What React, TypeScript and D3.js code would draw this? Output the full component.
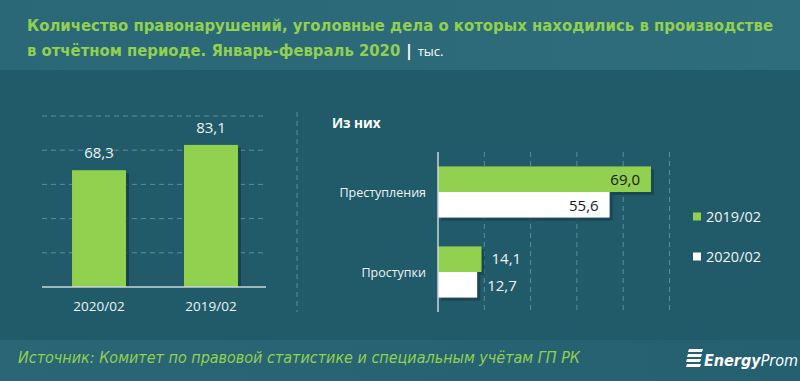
import React from "react";
import * as d3 from "d3";

const leftCategories = ["2020/02", "2019/02"];
const leftValues = [68.3, 83.1];
const leftTicks = [0, 20, 40, 60, 80, 100];

const rightCategories = ["Преступления", "Проступки"];
const seriesNames = ["2019/02", "2020/02"];
const series2019 = [69.0, 14.1];
const series2020 = [55.6, 12.7];
const rightTicks = [15, 30, 45, 60, 75];

const titleLine1 = "Количество правонарушений, уголовные дела о которых находились в производстве";
const titleLine2 = "в  отчётном периоде. Январь-февраль 2020";
const unitText = "тыс.";
const subTitle = "Из них";
const sourceText = "Источник: Комитет по правовой статистике и специальным учётам ГП РК";

const W = 800;
const H = 381;
const GREEN = "#92d050";
const GRID = "#5b8d9c";
const TXT = "#eef3f4";
const fmt = (v: number) => v.toFixed(1).replace(".", ",");

export default function App() {
  const yL = d3.scaleLinear().domain([0, 100]).range([287, 116]);
  const xL = d3.scaleBand<string>().domain(leftCategories).range([42, 268]).paddingInner(0.518).paddingOuter(0.268);

  const xR = d3.scaleLinear().domain([0, 75]).range([438, 669.5]);
  const yR = d3.scaleBand<string>().domain(rightCategories).range([152, 312]).paddingInner(0.36).paddingOuter(0.18);
  const yS = d3.scaleBand<string>().domain(seriesNames).range([0, yR.bandwidth()]);
  const seriesVals: Record<string, number[]> = { "2019/02": series2019, "2020/02": series2020 };
  const seriesColor: Record<string, string> = { "2019/02": GREEN, "2020/02": "#ffffff" };

  const condensed = "'Liberation Sans Narrow', 'DejaVu Sans Condensed', 'Roboto Condensed', sans-serif";
  const labelFont = "'Open Sans', 'Liberation Sans', sans-serif";

  return (
    <div style={{ position: "absolute", left: 0, top: 0, width: W, height: H }}>
      <svg width={W} height={H} style={{ display: "block" }}>
        <defs>
          <linearGradient id="titleBg" x1="0" x2="1" y1="0" y2="0">
            <stop offset="0" stopColor="#2a6777" />
            <stop offset="1" stopColor="#2e6d7c" />
          </linearGradient>
          <linearGradient id="footBg" x1="0" x2="1" y1="0" y2="0">
            <stop offset="0" stopColor="#2a6676" />
            <stop offset="1" stopColor="#24606f" />
          </linearGradient>
        </defs>
        <rect x={0} y={0} width={W} height={H} fill="#215a69" />
        <rect x={0} y={0} width={W} height={70} fill="url(#titleBg)" />
        <rect x={0} y={340} width={W} height={41} fill="url(#footBg)" />

        {/* Title */}
        <text x={27} y={31} fill={GREEN} fontFamily={condensed} fontSize={16.5} fontWeight="bold" textLength={746} lengthAdjust="spacingAndGlyphs">
          {titleLine1}
        </text>
        <text x={27} y={56} fontFamily={condensed} fontSize={16.5} fontWeight="bold">
          <tspan fill={GREEN}>{titleLine2}</tspan>
          <tspan fill="#ffffff" dx={6}>|</tspan>
          <tspan fill="#ffffff" dx={6} fontFamily={labelFont} fontSize={13} fontWeight="normal">{unitText}</tspan>
        </text>

        {/* Left chart grid */}
        {leftTicks.slice(1).map((t) => (
          <line key={t} x1={42} x2={266} y1={yL(t)} y2={yL(t)} stroke={GRID} strokeDasharray="5,4" strokeWidth={1} />
        ))}
        {leftCategories.map((c, i) => (
          <g key={c}>
            <rect x={(xL(c) as number) + 3} y={yL(leftValues[i]) + 3} width={xL.bandwidth()} height={yL(0) - yL(leftValues[i]) - 3} fill="#173f4b" opacity={0.8} />
            <rect x={xL(c) as number} y={yL(leftValues[i])} width={xL.bandwidth()} height={yL(0) - yL(leftValues[i])} fill={GREEN} />
            <text x={(xL(c) as number) + xL.bandwidth() / 2} y={yL(leftValues[i]) - 18} textAnchor="middle" dominantBaseline="central" fill={TXT} fontFamily={labelFont} fontSize={15}>
              {fmt(leftValues[i])}
            </text>
            <text x={(xL(c) as number) + xL.bandwidth() / 2} y={306} textAnchor="middle" dominantBaseline="central" fill={TXT} fontFamily={labelFont} fontSize={13.5}>
              {c}
            </text>
          </g>
        ))}
        <line x1={42} x2={266} y1={yL(0)} y2={yL(0)} stroke="#c9d6da" strokeWidth={1.5} />

        {/* separator */}
        <line x1={297} x2={297} y1={112} y2={312} stroke={GRID} strokeDasharray="5,4" strokeWidth={1} />

        {/* Right chart */}
        <text x={332} y={123} dominantBaseline="central" fill="#ffffff" fontFamily={labelFont} fontSize={13.5} fontWeight="bold">{subTitle}</text>
        {rightTicks.map((t) => (
          <line key={t} x1={xR(t)} x2={xR(t)} y1={152} y2={312} stroke={GRID} strokeDasharray="5,4" strokeWidth={1} />
        ))}
        {rightCategories.map((c, ci) => (
          <g key={c}>
            <text x={426} y={(yR(c) as number) + yR.bandwidth() / 2} textAnchor="end" dominantBaseline="central" fill={TXT} fontFamily={labelFont} fontSize={12.5}>
              {c}
            </text>
            {seriesNames.map((s) => {
              const v = seriesVals[s][ci];
              const y0 = (yR(c) as number) + (yS(s) as number);
              const inside = v > 30;
              return (
                <g key={s}>
                  <rect x={xR(0) + 3} y={y0 + 3} width={xR(v) - xR(0)} height={yS.bandwidth()} fill="#173f4b" opacity={0.7} />
                  <rect x={xR(0)} y={y0} width={xR(v) - xR(0)} height={yS.bandwidth()} fill={seriesColor[s]} />
                  <text
                    x={inside ? xR(v) - 11 : xR(v) + 10}
                    y={y0 + yS.bandwidth() / 2 + (s === "2019/02" && !inside ? -1 : 0)}
                    textAnchor={inside ? "end" : "start"}
                    dominantBaseline="central"
                    fill={inside ? "#1a1a1a" : TXT}
                    fontFamily={labelFont}
                    fontSize={15}
                  >
                    {fmt(v)}
                  </text>
                </g>
              );
            })}
          </g>
        ))}
        <line x1={xR(0)} x2={xR(0)} y1={152} y2={312} stroke="#c9d6da" strokeWidth={1.5} />

        {/* Legend */}
        {seriesNames.map((s, i) => (
          <g key={s} transform={`translate(693, ${212.5 + i * 40})`}>
            <rect x={0} y={0} width={8} height={8} fill={seriesColor[s]} />
            <text x={13} y={4} dominantBaseline="central" fill={TXT} fontFamily={labelFont} fontSize={14.5}>{s}</text>
          </g>
        ))}

        {/* Footer */}
        <text x={18} y={363} fill={GREEN} fontFamily={condensed} fontSize={15} fontStyle="italic" textLength={562} lengthAdjust="spacingAndGlyphs">
          {sourceText}
        </text>
        <g transform="translate(686, 349)" fill="#ffffff">
          <polygon points="3,0 17,0 16,3 2,3" />
          <polygon points="2,5 16,5 15,8 1,8" />
          <polygon points="1,10 15,10 14,13 0,13" />
          <polygon points="1,15 15,15 14,18 0,18" />
        </g>
        <text x={704} y={366} fill="#ffffff" fontFamily={condensed} fontSize={16} fontStyle="italic">
          <tspan fontWeight="bold">Energy</tspan>
          <tspan>Prom</tspan>
        </text>
      </svg>
    </div>
  );
}
